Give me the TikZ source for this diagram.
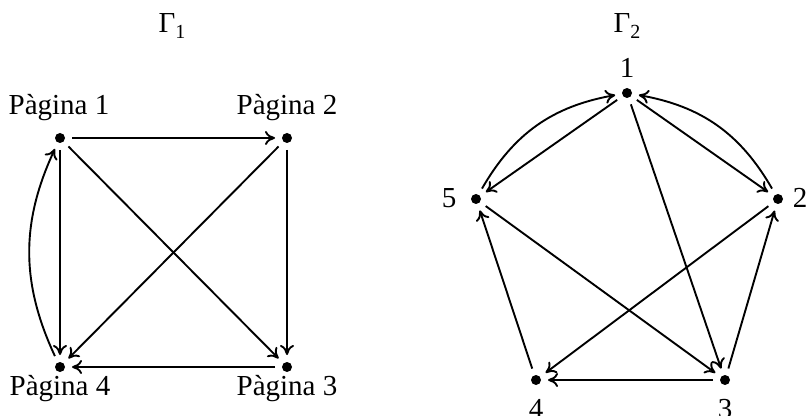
\documentclass[tikz,border=0pt]{standalone}
\usepackage{fontspec}
\setmainfont{Liberation Serif}
\usetikzlibrary{arrows.meta}
\begin{document}
\begin{tikzpicture}[x=1pt,y=1pt,
  vtx/.style={circle,minimum size=24pt,inner sep=0pt,outer sep=0pt},
  lab/.style={font=\fontsize{29}{35}\selectfont,inner sep=0pt,anchor=base},
  edge/.style={line width=1.9pt,-{Computer Modern Rightarrow[length=10pt,width=14pt]}}]
\useasboundingbox (0,0) rectangle (810,415);
% Gamma 1
\node[lab] (t1) at (172,382) {Γ\raisebox{-6pt}{\fontsize{20}{20}\selectfont 1}};
\node[vtx] (p1) at (60,277) {};
\node[vtx] (p2) at (287,277) {};
\node[vtx] (p3) at (287,48) {};
\node[vtx] (p4) at (60,48) {};
\foreach \n in {p1,p2,p3,p4} \fill (\n.center) circle (5pt);
\node[lab] (l1) at (59,300) {Pàgina 1};
\node[lab] (l2) at (287,300) {Pàgina 2};
\node[lab] (l3) at (287,20) {Pàgina 3};
\node[lab] (l4) at (60,20) {Pàgina 4};
\draw[edge] (p1) -- (p2);
\draw[edge] (p1) -- (p4);
\draw[edge] (p1) -- (p3);
\draw[edge] (p2) -- (p3);
\draw[edge] (p2) -- (p4);
\draw[edge] (p3) -- (p4);
\draw[edge] (p4) to[bend left=25] (p1);
% Gamma 2
\node[lab] (t2) at (627,382) {Γ\raisebox{-6pt}{\fontsize{20}{20}\selectfont 2}};
\node[vtx] (n1) at (627,322) {};
\node[vtx] (n2) at (778,216) {};
\node[vtx] (n3) at (725,35) {};
\node[vtx] (n4) at (536,35) {};
\node[vtx] (n5) at (476,216) {};
\foreach \n in {n1,n2,n3,n4,n5} \fill (\n.center) circle (5pt);
\node[lab] (m1) at (627,337) {1};
\node[lab] (m2) at (800,207) {2};
\node[lab] (m3) at (725,-3) {3};
\node[lab] (m4) at (536,-3) {4};
\node[lab] (m5) at (449,207) {5};
\draw[edge] (n5) to[bend left=25] (n1);
\draw[edge] (n1) -- (n5);
\draw[edge] (n1) -- (n2);
\draw[edge] (n2) to[bend right=25] (n1);
\draw[edge] (n1) -- (n3);
\draw[edge] (n5) -- (n3);
\draw[edge] (n2) -- (n4);
\draw[edge] (n3) -- (n4);
\draw[edge] (n4) -- (n5);
\draw[edge] (n3) -- (n2);
\end{tikzpicture}
\end{document}
